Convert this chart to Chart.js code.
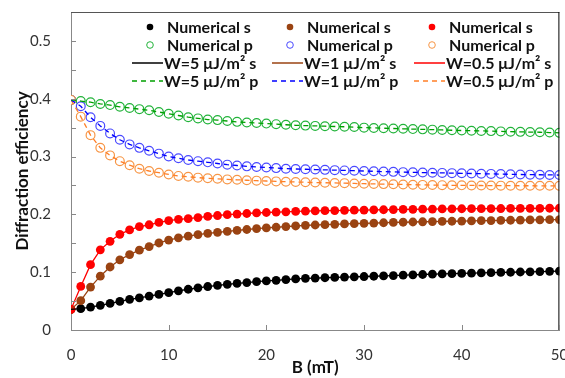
<!DOCTYPE html>
<html>
<head>
  <title>Diffraction efficiency vs B</title>
  <script src="https://cdn.jsdelivr.net/npm/chart.js@4"></script>
  <style>
    html, body { margin: 0; padding: 0; background: #fff; }
    #wrap { width: 565px; height: 378px; }
  </style>
</head>
<body>
  <div id="wrap"><canvas id="effChart" width="565" height="378"></canvas></div>

  <script>
    const bValues = [0,1,2,3,4,5,6,7,8,9,10,11,12,13,14,15,16,17,18,19,20,21,22,23,24,25,
      26,27,28,29,30,31,32,33,34,35,36,37,38,39,40,41,42,43,44,45,46,47,48,49,50];

    // s polarisation
    const sW5 = [0.0357,0.0369,0.0397,0.0426,0.046,0.0495,0.053,0.0555,0.0586,0.0616,0.0645,0.0678,0.0705,
      0.073,0.0752,0.0772,0.079,0.0806,0.0821,0.0835,0.0848,0.086,0.0872,0.0883,0.0893,
      0.0898,0.0904,0.0909,0.0915,0.092,0.0925,0.093,0.0936,0.0942,0.0948,0.0954,0.096,0.0965,
      0.097,0.0975,0.0979,0.0983,0.0987,0.0991,0.0995,0.0999,0.1003,0.1007,0.1011,0.1015,0.102];
    const sW1 = [0.0357,0.0507,0.0742,0.0931,0.109,0.1214,0.1305,0.138,0.1443,0.1505,0.1555,0.1595,0.1625,
      0.165,0.1672,0.169,0.1707,0.1723,0.1738,0.1752,0.1765,0.1777,0.1788,0.1799,0.181,
      0.1816,0.1822,0.1828,0.1834,0.184,0.1845,0.185,0.1855,0.186,0.1864,0.1868,0.1872,0.1875,
      0.1878,0.1881,0.1884,0.1887,0.189,0.1893,0.1895,0.1898,0.19,0.1903,0.1905,0.1908,0.191];
    const sW05 = [0.0357,0.0753,0.113,0.1386,0.1534,0.1655,0.173,0.1788,0.182,0.186,0.189,0.1915,0.1925,
      0.1945,0.1965,0.198,0.1995,0.2005,0.2015,0.2025,0.2032,0.2038,0.2044,0.205,0.2055,
      0.206,0.2063,0.2066,0.2069,0.2072,0.2075,0.2078,0.208,0.2083,0.2085,0.2088,0.209,0.2092,
      0.2094,0.2096,0.2097,0.2098,0.2099,0.21,0.2101,0.2102,0.2103,0.2104,0.2105,0.2106,0.2107];

    // p polarisation
    const pW5 = [0.398,0.396,0.394,0.391,0.389,0.386,0.384,0.382,0.38,0.377,0.374,0.371,0.368,
      0.366,0.364,0.363,0.3615,0.36,0.359,0.358,0.357,0.356,0.355,0.354,0.3535,
      0.353,0.3525,0.352,0.3515,0.351,0.35,0.3495,0.349,0.3485,0.348,0.3475,0.347,0.3465,
      0.346,0.3455,0.345,0.3447,0.3443,0.344,0.3435,0.343,0.3427,0.3423,0.342,0.3415,0.341];
    const pW1 = [0.398,0.387,0.368,0.353,0.34,0.329,0.321,0.315,0.31,0.305,0.3,0.297,0.294,
      0.292,0.29,0.288,0.286,0.2845,0.283,0.282,0.281,0.28,0.279,0.2785,0.278,
      0.2775,0.277,0.2765,0.276,0.2755,0.275,0.2745,0.274,0.2735,0.273,0.2727,0.2723,0.272,
      0.2717,0.2713,0.271,0.2707,0.2703,0.27,0.2697,0.2693,0.269,0.2687,0.2685,0.2682,0.268];
    const pW05 = [0.398,0.369,0.337,0.315,0.302,0.292,0.285,0.279,0.275,0.272,0.269,0.2665,0.265,
      0.2635,0.2625,0.2615,0.2605,0.2598,0.259,0.2583,0.2577,0.257,0.2565,0.256,0.2555,
      0.255,0.2547,0.2543,0.254,0.2535,0.253,0.2527,0.2523,0.252,0.2517,0.2513,0.251,0.2507,
      0.2505,0.2503,0.2502,0.25,0.2499,0.2498,0.2497,0.2496,0.2495,0.2495,0.2494,0.2494,0.2493];

    const xTicks = [0, 10, 20, 30, 40, 50];
    const yTicks = [0, 0.1, 0.2, 0.3, 0.4, 0.5];
    const yMinorTicks = [0.05, 0.15, 0.25, 0.35, 0.45];
    const yTickLabels = ['0', '0.1', '0.2', '0.3', '0.4', '0.5'];

    const pts = arr => arr.map((v, i) => ({ x: bValues[i], y: v }));

    // lower order is painted on top
    function marker(label, arr, color, filled, order) {
      return {
        label: label, data: pts(arr), showLine: false, order: order,
        pointRadius: 4.4,
        pointBackgroundColor: filled ? color : '#fff',
        pointBorderColor: color,
        pointBorderWidth: filled ? 0 : 1.2,
        backgroundColor: filled ? color : '#fff',
        borderColor: color
      };
    }
    function curve(label, arr, color, dashed) {
      return {
        label: label, data: pts(arr), showLine: true, order: 0,
        pointRadius: 0, borderColor: color, borderWidth: 1.3,
        borderDash: dashed ? [5, 4] : [], tension: 0
      };
    }

    const datasets = [
      marker('Numerical s', sW5, '#000000', true, 4),
      marker('Numerical s', sW1, '#9a4312', true, 3),
      marker('Numerical s', sW05, '#ff0000', true, 1),
      marker('Numerical p', pW5, '#22b33a', false, 4),
      marker('Numerical p', pW1, '#4a4aff', false, 3),
      marker('Numerical p', pW05, '#f79646', false, 2),
      curve('W=5 \u03bcJ/m\u00b2 s', sW5, '#000000', false),
      curve('W=1 \u03bcJ/m\u00b2 s', sW1, '#9a4312', false),
      curve('W=0.5 \u03bcJ/m\u00b2 s', sW05, '#ff0000', false),
      curve('W=5 \u03bcJ/m\u00b2 p', pW5, '#00a000', true),
      curve('W=1 \u03bcJ/m\u00b2 p', pW1, '#0000ff', true),
      curve('W=0.5 \u03bcJ/m\u00b2 p', pW05, '#ff7f27', true)
    ];

    // frame, inside ticks and 3-column legend
    const extras = {
      id: 'extras',
      afterDatasetsDraw(chart) {
        const c = chart.ctx, a = chart.chartArea;
        const xs = chart.scales.x, ys = chart.scales.y;
        c.save();
        c.lineWidth = 1;
        c.strokeStyle = '#555';
        c.beginPath(); c.moveTo(a.left, a.top + 0.5); c.lineTo(a.right, a.top + 0.5); c.stroke();
        c.strokeStyle = '#000';
        c.beginPath(); c.moveTo(a.right - 0.5, a.top); c.lineTo(a.right - 0.5, a.bottom); c.stroke();
        c.strokeStyle = '#888';
        xTicks.forEach(t => {
          const px = Math.round(xs.getPixelForValue(t)) + 0.5;
          c.beginPath(); c.moveTo(px, a.bottom); c.lineTo(px, a.bottom - 5); c.stroke();
        });
        yTicks.concat(yMinorTicks).forEach(t => {
          const py = Math.round(ys.getPixelForValue(t)) + 0.5;
          c.beginPath(); c.moveTo(a.left, py); c.lineTo(a.left + 5, py); c.stroke();
        });

        const colX = [150, 290, 432];
        const rowY = [27, 45, 63, 81];
        c.font = 'bold 16px Lato';
        c.textBaseline = 'middle';
        c.fillStyle = '#111';
        chart.data.datasets.forEach((ds, i) => {
          const col = i % 3, row = Math.floor(i / 3);
          const cx = colX[col], cy = rowY[row];
          if (ds.showLine) {
            c.strokeStyle = ds.borderColor;
            c.lineWidth = 1.5;
            c.setLineDash(ds.borderDash);
            c.beginPath(); c.moveTo(cx - 18, cy); c.lineTo(cx + 13, cy); c.stroke();
            c.setLineDash([]);
            c.fillStyle = '#111';
            c.fillText(ds.label, cx + 14, cy + 1);
          } else {
            c.beginPath();
            c.arc(cx, cy, 3.3, 0, Math.PI * 2);
            c.fillStyle = ds.pointBackgroundColor;
            c.fill();
            if (ds.pointBorderWidth) {
              c.lineWidth = 1; c.strokeStyle = ds.pointBorderColor; c.stroke();
            }
            c.fillStyle = '#111';
            c.fillText(ds.label, cx + 17, cy + 1);
          }
        });
        c.restore();
      }
    };

    const ctx = document.getElementById('effChart').getContext('2d');
    new Chart(ctx, {
      type: 'scatter',
      data: { datasets: datasets },
      plugins: [extras],
      options: {
        responsive: false,
        animation: false,
        layout: { padding: { top: 12, right: 5, left: 0, bottom: 0 } },
        plugins: { legend: { display: false }, tooltip: { enabled: false } },
        scales: {
          x: {
            type: 'linear', min: 0, max: 50,
            afterBuildTicks: s => { s.ticks = xTicks.map(v => ({ value: v })); },
            afterFit: s => { s.height = 48; s.paddingRight = 0; s.paddingLeft = 0; },
            grid: { display: false },
            border: { display: true, color: '#888', width: 1 },
            ticks: { color: '#333', font: { family: 'Lato', size: 15 }, padding: 8, maxRotation: 0 },
            title: { display: true, text: 'B (mT)', color: '#111', font: { family: 'Lato', size: 17, weight: 'bold' }, padding: { top: 0, bottom: 0 } }
          },
          y: {
            type: 'linear', min: 0, max: 0.55,
            afterBuildTicks: s => { s.ticks = yTicks.map(v => ({ value: v })); },
            afterFit: s => { s.width = 71; s.paddingTop = 0; s.paddingBottom = 0; },
            grid: { display: false },
            border: { display: true, color: '#888', width: 1 },
            ticks: {
              color: '#333', font: { family: 'Lato', size: 15 }, padding: 12,
              callback: (v) => yTickLabels[yTicks.findIndex(t => Math.abs(t - v) < 1e-6)]
            },
            title: { display: true, text: 'Diffraction efficiency', color: '#111', font: { family: 'Lato', size: 17, weight: 'bold' }, padding: { top: 12, bottom: 0 } }
          }
        }
      }
    });
  </script>
</body>
</html>
